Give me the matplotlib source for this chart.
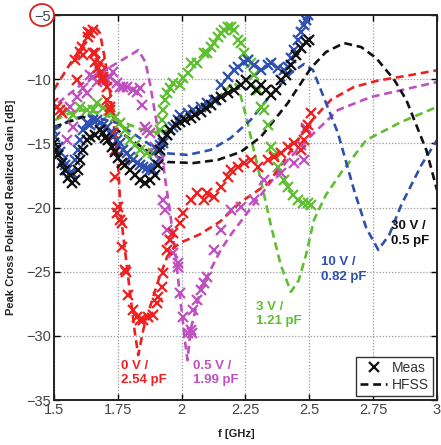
import matplotlib
matplotlib.use("Agg")
import matplotlib.pyplot as plt
from matplotlib.patches import Ellipse

plt.rcParams['font.family'] = ['Liberation Sans', 'DejaVu Sans']

# ---- HFSS simulation curves (f in GHz, gain in dB) ----
hfss_0v_f = [1.50, 1.56, 1.62, 1.66, 1.68, 1.70, 1.72, 1.74, 1.752, 1.76, 1.77, 1.785, 1.80, 1.815,
             1.83, 1.85, 1.877, 1.91, 1.944, 1.97, 2.0, 2.07, 2.15, 2.23, 2.34, 2.43, 2.51, 2.585,
             2.675, 2.77, 2.89, 3.0]
hfss_0v_db = [-10.8, -8.9, -7.1, -5.9, -6.4, -8.5, -11.1, -14.5, -17.0, -20.0, -22.0, -24.5, -27.0, -29.5,
              -31.5, -29.5, -27.7, -25.6, -23.8, -23.1, -22.7, -22.1, -21.1, -19.6, -18.1, -15.5, -13.2, -11.6,
              -10.6, -10.1, -9.7, -9.3]

hfss_05v_f = [1.516, 1.614, 1.72, 1.799, 1.83, 1.858, 1.877, 1.897, 1.917, 1.936, 1.956, 1.976, 1.995,
              2.015, 2.023, 2.035, 2.074, 2.113, 2.153, 2.192, 2.31, 2.416, 2.518, 2.612, 2.74, 3.0]
hfss_05v_db = [-11.85, -10.3, -9.05, -8.12, -7.73, -8.66, -10.45, -12.79, -15.12, -17.85, -20.58, -23.69, -27.2,
               -30.7, -31.9, -29.53, -26.42, -24.86, -23.3, -22.13, -19.02, -16.29, -14.19, -12.4, -11.39, -10.22]

hfss_3v_f = [1.504, 1.563, 1.614, 1.681, 1.748, 1.85, 1.917, 1.968, 2.074, 2.153, 2.204, 2.223, 2.251,
             2.278, 2.31, 2.349, 2.388, 2.428, 2.459, 2.487, 2.518, 2.565, 2.624, 2.723, 2.86, 3.0]
hfss_3v_db = [-13.18, -12.63, -12.4, -12.63, -13.18, -13.96, -14.19, -13.8, -12.4, -11.23, -10.22, -10.69, -12.79,
              -15.12, -17.85, -21.35, -24.47, -26.57, -25.64, -23.69, -20.97, -19.02, -17.3, -14.74, -13.33, -12.16]

hfss_10v_f = [1.50, 1.563, 1.63, 1.748, 1.866, 1.928, 2.023, 2.113, 2.192, 2.27, 2.349, 2.428, 2.479,
              2.514, 2.553, 2.612, 2.675, 2.723, 2.77, 2.813, 2.86, 2.939, 3.0]
hfss_10v_db = [-13.96, -13.18, -12.79, -13.41, -14.97, -15.75, -15.9, -15.51, -14.58, -13.18, -11.23, -9.52, -8.82,
               -9.28, -11.23, -14.19, -18.63, -21.59, -23.3, -22.13, -19.8, -16.68, -14.74]

hfss_30v_f = [1.50, 1.614, 1.748, 1.877, 1.944, 2.046, 2.141, 2.231, 2.31, 2.416, 2.506, 2.565, 2.636,
              2.703, 2.762, 2.833, 2.88, 2.919, 2.958, 3.0]
hfss_30v_db = [-13.72, -12.94, -13.96, -15.75, -16.45, -16.53, -16.29, -15.67, -14.5, -11.85, -9.13, -7.88, -7.18,
               -7.49, -8.35, -10.06, -11.62, -13.57, -15.51, -18.63]

# ---- measured points ----
meas_0v_f = [1.496, 1.512, 1.524, 1.531, 1.59, 1.583, 1.602, 1.61, 1.614, 1.634, 1.634, 1.642, 1.653, 1.653,
             1.661, 1.661, 1.673, 1.681, 1.681, 1.693, 1.693, 1.708, 1.708, 1.72, 1.72, 1.732, 1.74, 1.74,
             1.748, 1.752, 1.759, 1.767, 1.767, 1.779, 1.783, 1.791, 1.811, 1.826, 1.838, 1.85, 1.87, 1.889,
             1.905, 1.909, 1.925, 1.928, 1.944, 1.956, 1.968, 1.995, 2.007, 2.035, 2.062, 2.086, 2.101, 2.125,
             2.153, 2.18, 2.192, 2.219, 2.243, 2.27, 2.298, 2.337, 2.361, 2.388, 2.416, 2.44, 2.467, 2.479,
             2.487, 2.495, 2.506]
meas_0v_db = [-11.85, -12.16, -12.4, -12.63, -10.06, -8.5, -7.88, -7.49, -8.12, -6.71, -6.32, -6.4, -6.17, -7.96,
              -7.96, -8.66, -9.13, -8.74, -9.52, -9.83, -10.06, -10.61, -11.62, -12.16, -12.4, -14.19, -15.51, -17.62,
              -20.42, -19.95, -20.97, -21.2, -23.07, -24.86, -25.02, -26.81, -27.97, -28.52, -28.75, -28.75, -28.52, -28.36,
              -27.43, -26.96, -26.18, -25.09, -23.3, -22.52, -21.98, -21.2, -20.42, -19.41, -18.86, -19.41, -18.86, -19.17,
              -18.4, -17.62, -17.07, -16.84, -16.53, -16.29, -16.84, -16.29, -16.06, -15.75, -15.28, -14.97, -15.51, -14.74,
              -13.96, -13.57, -12.63]

meas_05v_f = [1.551, 1.575, 1.563, 1.59, 1.614, 1.63, 1.642, 1.653, 1.669, 1.693, 1.708, 1.72, 1.732, 1.748,
              1.759, 1.771, 1.787, 1.811, 1.826, 1.838, 1.846, 1.858, 1.866, 1.877, 1.897, 1.917, 1.928, 1.936,
              1.944, 1.956, 1.968, 1.984, 1.987, 1.995, 2.007, 2.023, 2.042, 2.035, 2.046, 2.062, 2.074, 2.086,
              2.101, 2.125, 2.153, 2.192, 2.231, 2.282, 2.322, 2.388, 2.44, 2.479, 2.467, 2.487]
meas_05v_db = [-14.74, -13.72, -12.16, -11.39, -10.69, -11.07, -9.67, -9.83, -10.22, -9.52, -10.06, -9.83, -9.44, -10.3,
               -10.61, -10.61, -10.61, -10.84, -11.0, -10.69, -12.01, -13.72, -13.96, -14.19, -15.28, -16.29, -19.41, -20.19,
               -21.74, -22.52, -23.54, -24.31, -24.63, -26.65, -28.52, -29.77, -29.77, -29.53, -27.97, -27.2, -26.42, -25.87,
               -25.4, -23.3, -21.74, -20.19, -19.95, -19.41, -17.85, -17.3, -16.53, -16.29, -15.12, -13.8]

meas_3v_f = [1.551, 1.575, 1.602, 1.63, 1.653, 1.669, 1.693, 1.72, 1.74, 1.759, 1.779, 1.799, 1.818, 1.838,
             1.866, 1.889, 1.905, 1.917, 1.925, 1.928, 1.936, 1.944, 1.956, 1.968, 1.995, 2.007, 2.023, 2.035,
             2.062, 2.086, 2.101, 2.113, 2.125, 2.141, 2.153, 2.165, 2.18, 2.192, 2.204, 2.219, 2.231, 2.243,
             2.259, 2.27, 2.282, 2.298, 2.31, 2.322, 2.337, 2.349, 2.361, 2.377, 2.40, 2.416, 2.436, 2.455,
             2.475, 2.495, 2.506]
meas_3v_db = [-12.4, -12.79, -12.16, -12.4, -12.4, -11.85, -12.24, -12.63, -12.94, -13.41, -13.96, -14.74, -15.12, -15.51,
              -15.75, -15.75, -15.51, -13.96, -13.18, -12.4, -11.62, -11.07, -10.69, -10.3, -10.45, -9.91, -9.52, -8.74,
              -8.74, -7.96, -7.96, -7.49, -7.18, -6.71, -6.4, -6.17, -5.93, -5.93, -6.17, -6.95, -7.18, -7.96,
              -8.5, -8.74, -9.67, -10.84, -12.16, -12.4, -13.57, -15.28, -15.9, -16.84, -17.85, -18.4, -19.02, -19.41,
              -19.64, -19.64, -19.8]

meas_10v_f = [1.496, 1.504, 1.516, 1.524, 1.535, 1.543, 1.551, 1.563, 1.571, 1.583, 1.594, 1.602, 1.614, 1.63,
              1.642, 1.653, 1.669, 1.681, 1.693, 1.708, 1.72, 1.732, 1.748, 1.759, 1.771, 1.787, 1.799, 1.811,
              1.826, 1.838, 1.85, 1.866, 1.877, 1.889, 1.897, 1.905, 1.917, 1.928, 1.944, 1.956, 1.968, 1.984,
              1.995, 2.023, 2.046, 2.074, 2.101, 2.125, 2.153, 2.18, 2.204, 2.219, 2.243, 2.259, 2.282, 2.31,
              2.337, 2.349, 2.377, 2.40, 2.416, 2.428, 2.44, 2.455, 2.467, 2.479, 2.487, 2.495]
meas_10v_db = [-13.96, -14.5, -15.28, -15.67, -16.29, -16.68, -17.07, -17.3, -17.3, -16.29, -15.51, -14.74, -13.96, -13.41,
               -13.57, -13.18, -13.18, -13.41, -13.57, -13.72, -14.19, -14.5, -14.74, -14.97, -15.51, -15.75, -16.06, -16.29,
               -16.53, -16.68, -16.84, -16.92, -17.07, -17.07, -16.53, -15.51, -15.12, -14.97, -14.35, -13.96, -13.72, -13.18,
               -12.79, -12.63, -12.4, -12.16, -11.85, -11.62, -10.45, -9.83, -9.28, -9.05, -8.66, -8.5, -8.9, -9.28,
               -8.9, -8.74, -9.13, -9.28, -9.05, -8.35, -7.73, -6.95, -6.32, -5.78, -5.39, -5.0]

meas_30v_f = [1.50, 1.508, 1.516, 1.531, 1.543, 1.555, 1.571, 1.583, 1.594, 1.602, 1.614, 1.63, 1.642, 1.661,
              1.681, 1.693, 1.70, 1.712, 1.728, 1.74, 1.752, 1.767, 1.779, 1.799, 1.818, 1.838, 1.858, 1.877,
              1.897, 1.909, 1.917, 1.928, 1.944, 1.956, 1.976, 1.995, 2.015, 2.035, 2.054, 2.074, 2.094, 2.113,
              2.133, 2.153, 2.18, 2.204, 2.231, 2.251, 2.27, 2.29, 2.31, 2.329, 2.349, 2.369, 2.388, 2.408,
              2.428, 2.447, 2.467, 2.487, 2.498]
meas_30v_db = [-14.97, -15.51, -15.9, -16.53, -17.07, -17.7, -18.08, -17.85, -17.07, -16.29, -15.51, -14.74, -14.5, -14.35,
               -13.96, -14.19, -14.58, -14.74, -15.28, -15.67, -16.14, -16.53, -16.68, -17.07, -17.46, -17.85, -18.08, -17.85,
               -17.46, -16.68, -15.51, -14.74, -14.35, -13.96, -13.57, -13.33, -13.18, -13.02, -12.79, -12.55, -12.24, -12.01,
               -11.62, -11.39, -11.07, -10.84, -10.45, -10.06, -10.45, -10.84, -10.45, -10.84, -11.23, -10.84, -10.06, -9.67,
               -8.9, -8.12, -7.57, -7.1, -6.95]

RED = '#ee2020'
MAG = '#c050c0'
GRN = '#5fbf30'
BLU = '#3050b0'
BLK = '#111111'

fig = plt.figure(figsize=(4.41, 4.45), dpi=100)
ax = fig.add_axes([0.1224, 0.1011, 0.8685, 0.865])

dash = dict(linestyle=(0, (3, 1.8)), linewidth=1.9)
mk = dict(linestyle='none', marker='x', markersize=6.5, markeredgewidth=1.6)

ax.plot(hfss_3v_f, hfss_3v_db, color=GRN, **dash)
ax.plot(hfss_05v_f, hfss_05v_db, color=MAG, **dash)
ax.plot(hfss_0v_f, hfss_0v_db, color=RED, **dash)
ax.plot(hfss_10v_f, hfss_10v_db, color=BLU, **dash)
ax.plot(hfss_30v_f, hfss_30v_db, color=BLK, **dash)

ax.plot(meas_3v_f, meas_3v_db, color=GRN, **mk)
ax.plot(meas_05v_f, meas_05v_db, color=MAG, **mk)
ax.plot(meas_0v_f, meas_0v_db, color=RED, **mk)
ax.plot(meas_10v_f, meas_10v_db, color=BLU, **mk)
ax.plot(meas_30v_f, meas_30v_db, color=BLK, **mk)

ax.set_xlim(1.5, 3.0)
ax.set_ylim(-35, -5)
ax.set_xticks([1.5, 1.75, 2.0, 2.25, 2.5, 2.75, 3.0])
ax.set_xticklabels(['1.5', '1.75', '2', '2.25', '2.5', '2.75', '3'])
ax.set_yticks([-35, -30, -25, -20, -15, -10, -5])
ax.grid(True, color='#999999', linestyle=(0, (1, 1.5)), linewidth=0.9)
ax.tick_params(direction='in', top=True, right=True, length=4, width=1,
               labelsize=10.5, labelcolor='#444444', pad=2)
for s in ax.spines.values():
    s.set_linewidth(1.4)
    s.set_color('#222222')

ax.set_xlabel('f [GHz]', fontsize=8, fontweight='bold', color='#222222', labelpad=4)
ax.xaxis.set_label_coords(0.475, -0.075)
ax.set_ylabel('Peak Cross Polarized Realized Gain [dB]', fontsize=8, fontweight='bold', color='#222222')
ax.yaxis.set_label_coords(-0.1, 0.5)

lab = dict(fontsize=9.5, fontweight='bold', ha='left', va='top', linespacing=1.25)
ax.text(1.763, -31.9, '0 V /\n2.54 pF', color=RED, **lab)
ax.text(2.046, -31.9, '0.5 V /\n1.99 pF', color=MAG, **lab)
ax.text(2.29, -27.3, '3 V /\n1.21 pF', color=GRN, **lab)
ax.text(2.546, -23.8, '10 V /\n0.82 pF', color=BLU, **lab)
ax.text(2.821, -21.0, '30 V /\n0.5 pF', color=BLK, **lab)

h1, = ax.plot([], [], color=BLK, **mk)
h2, = ax.plot([], [], color=BLK, **dash)
leg = ax.legend([h1, h2], ['Meas', 'HFSS'], loc='lower right', fontsize=10,
                handlelength=2.0, handletextpad=0.3, borderpad=0.3, labelspacing=0.2,
                borderaxespad=0.3, fancybox=False, framealpha=1)
leg.get_frame().set_edgecolor('#333333')
leg.get_frame().set_linewidth(1.0)
for t in leg.get_texts():
    t.set_color('#333333')

# red circle highlighting the -5 tick label
fig.add_artist(Ellipse((42 / 441, 1 - 15 / 445), 24 / 441, 22 / 445, transform=fig.transFigure,
                       fill=False, edgecolor='#e02020', linewidth=1.3))

fig.savefig('out.png', dpi=100)
